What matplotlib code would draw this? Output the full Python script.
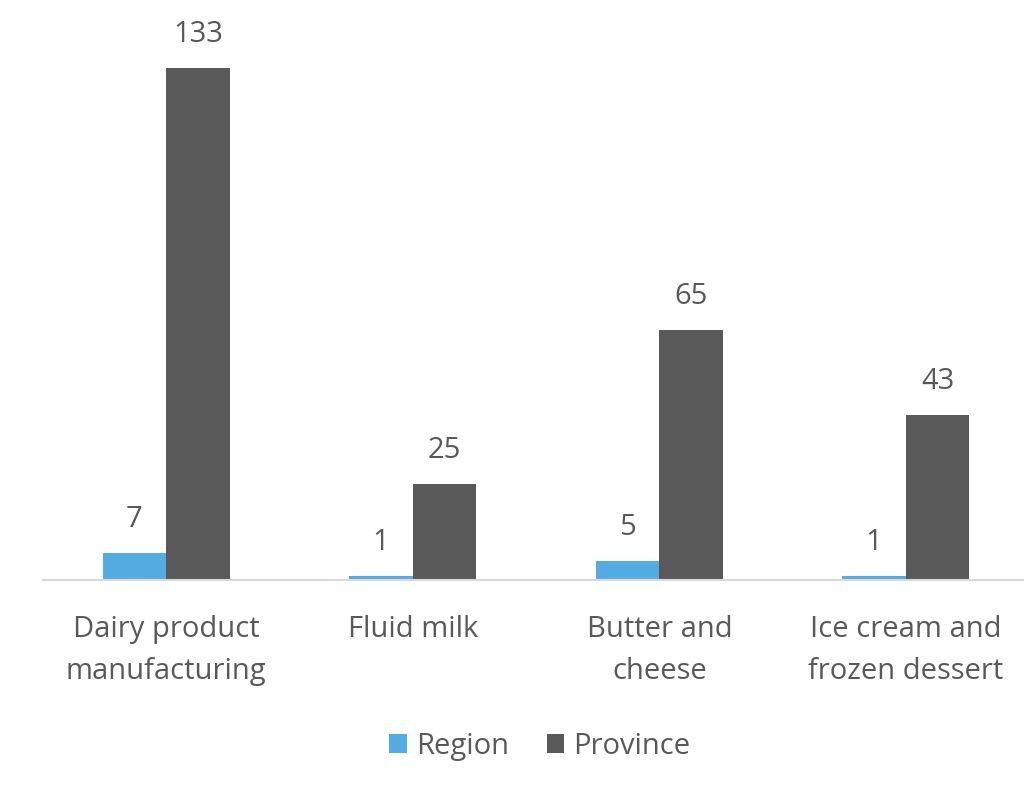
import matplotlib.pyplot as plt
import numpy as np

plt.rcParams['font.family'] = ['Open Sans', 'DejaVu Sans']

categories = ["Dairy product\nmanufacturing", "Fluid milk", "Butter and\ncheese",
              "Ice cream and\nfrozen dessert"]
region = [7, 1, 5, 1]
province = [133, 25, 65, 43]

blue = "#55ACE3"
grey = "#595959"
text_col = "#595959"

fig = plt.figure(figsize=(10.24, 7.98), dpi=100)
ax = fig.add_axes([0.042, 0.273, 0.963, 0.727])

x = np.arange(len(categories))
w = 0.258
b1 = ax.bar(x - w / 2, region, w, color=blue, label="Region")
b2 = ax.bar(x + w / 2, province, w, color=grey, label="Province")

for bars in (b1, b2):
    for r in bars:
        ax.annotate(f"{int(r.get_height())}", (r.get_x() + r.get_width() / 2, r.get_height()),
                    xytext=(0, 24), textcoords="offset points", ha="center", va="center",
                    fontsize=21, color=text_col)

ax.set_xlim(-0.5, 3.5)
ax.set_ylim(0, 150.7)
ax.set_yticks([])
for s in ["top", "right", "left"]:
    ax.spines[s].set_visible(False)
ax.spines["bottom"].set_color("#D9D9D9")
ax.spines["bottom"].set_linewidth(1.5)
ax.set_xticks(x)
ax.set_xticklabels(categories, fontsize=21, color=text_col, linespacing=1.58)
ax.tick_params(axis="x", length=0, pad=25)

fig.legend(loc="center", bbox_to_anchor=(0.527, 0.065), ncol=2, frameon=False,
           fontsize=21, labelcolor=text_col, handlelength=0.6, handleheight=0.6,
           handletextpad=0.3, columnspacing=1.3)

fig.savefig("out.png", dpi=100)
